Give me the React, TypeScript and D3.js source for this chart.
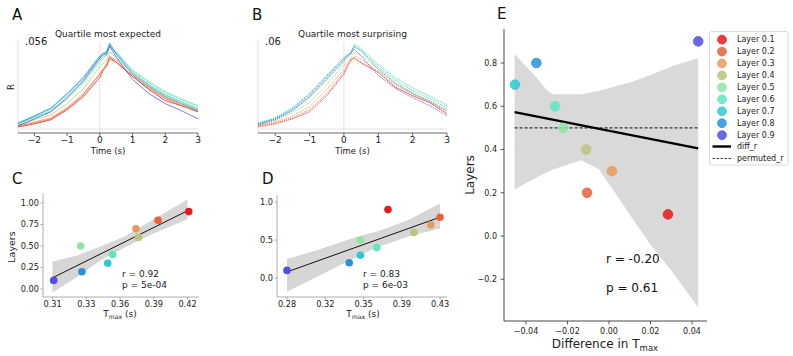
import React from 'react';
import * as d3 from 'd3';

const FONT = '"DejaVu Sans", sans-serif';

// layers, ordered 0.1 ... 0.9
const layerLabels = ['Layer 0.1', 'Layer 0.2', 'Layer 0.3', 'Layer 0.4', 'Layer 0.5', 'Layer 0.6', 'Layer 0.7', 'Layer 0.8', 'Layer 0.9'];
const layerColors = ['#e8191c', '#e8623c', '#e89a5c', '#bec27c', '#8ee6a0', '#5ee6c2', '#2ec8d2', '#2892dc', '#5050e2'];
const layerValue = [0.1, 0.2, 0.3, 0.4, 0.5, 0.6, 0.7, 0.8, 0.9];
const layerDepth = [0.9, 0.8, 0.7, 0.6, 0.5, 0.4, 0.3, 0.2, 0.1];

// A / B : time courses of R (in units of 1e-3), one row per layer
const timePoints = [-2.5, -2, -1.5, -1, -0.5, 0, 0.1, 0.2, 0.3, 0.5, 1, 1.5, 2, 2.5, 3];
const timeTicks = [-2, -1, 0, 1, 2, 3];

const expectedR = [
  [1.3, 3.3, 5.9, 12.4, 20.8, 33.2, 37.8, 40.4, 46.2, 43.0, 33.9, 25.4, 18.2, 15.0, 11.1],
  [2.0, 3.9, 6.5, 13.0, 22.1, 35.2, 37.8, 40.4, 44.9, 43.0, 33.9, 26.0, 19.5, 15.0, 11.1],
  [2.0, 4.6, 7.2, 13.7, 22.8, 35.8, 39.1, 41.7, 46.9, 44.3, 34.5, 26.7, 20.2, 15.6, 11.7],
  [2.6, 5.9, 9.1, 16.3, 26.0, 40.4, 42.3, 44.3, 49.5, 46.2, 35.8, 28.0, 21.5, 16.9, 12.4],
  [3.3, 7.2, 11.1, 18.9, 29.3, 43.0, 44.9, 46.9, 52.7, 49.5, 37.8, 30.6, 24.1, 19.5, 15.0],
  [3.3, 7.8, 11.7, 20.2, 30.6, 44.3, 46.2, 47.5, 53.4, 49.5, 37.8, 29.9, 23.4, 18.9, 14.3],
  [3.9, 8.5, 13.0, 22.1, 32.6, 46.2, 48.2, 49.5, 54.7, 48.8, 36.5, 28.6, 22.1, 17.6, 13.0],
  [3.6, 8.2, 13.4, 22.8, 33.4, 47.0, 48.9, 49.0, 55.2, 48.2, 35.2, 27.3, 20.8, 16.3, 11.7],
  [2.0, 6.5, 11.1, 20.2, 31.2, 45.6, 47.5, 48.2, 53.4, 46.2, 31.9, 22.8, 16.3, 11.7, 6.5],
];

const surprisingR = [
  [1.4, 3.5, 7.0, 11.9, 23.0, 37.7, 43.3, 48.2, 48.9, 45.4, 39.1, 28.6, 23.0, 18.1, 10.5],
  [2.1, 4.2, 7.7, 13.3, 24.4, 39.1, 43.3, 46.8, 48.9, 46.1, 39.1, 29.3, 23.0, 18.1, 10.5],
  [2.1, 4.9, 9.1, 15.4, 27.2, 41.2, 44.7, 47.5, 50.3, 48.2, 39.8, 30.7, 24.4, 18.8, 11.9],
  [2.8, 5.6, 11.2, 18.1, 30.7, 44.0, 46.8, 48.9, 53.0, 51.0, 41.2, 32.1, 25.1, 19.5, 13.3],
  [3.5, 7.0, 12.6, 21.6, 33.5, 46.1, 48.9, 51.7, 57.9, 55.8, 44.7, 35.6, 28.6, 23.0, 16.8],
  [3.5, 7.0, 13.3, 22.3, 34.2, 46.8, 49.6, 52.4, 58.6, 55.1, 44.0, 34.9, 27.9, 22.3, 16.1],
  [4.2, 7.7, 14.7, 24.4, 37.0, 48.9, 51.0, 52.4, 56.5, 54.4, 42.6, 33.5, 26.5, 20.9, 14.7],
  [3.5, 7.0, 14.0, 23.7, 36.3, 48.9, 51.0, 53.0, 57.2, 53.7, 41.2, 31.4, 24.4, 18.8, 12.6],
  [2.8, 6.3, 12.6, 22.3, 34.9, 47.5, 50.3, 51.7, 55.1, 50.3, 37.0, 27.9, 21.6, 16.1, 9.1],
];

// C / D : Tmax per layer
const tmaxExpected = [0.421, 0.396, 0.378, 0.380, 0.333, 0.359, 0.355, 0.334, 0.311];
const tmaxSurprising = [0.379, 0.43, 0.421, 0.4045, 0.352, 0.368, 0.352, 0.341, 0.28];

const fitC = [[0.31, 0.13], [0.42, 0.91]];
const bandC = [
  [0.31, -0.04, 0.32], [0.33, 0.14, 0.39], [0.35, 0.34, 0.5], [0.37, 0.49, 0.62], [0.39, 0.63, 0.79], [0.42, 0.81, 1.04],
];
const fitD = [[0.28, 0.08], [0.43, 0.8]];
const bandD = [
  [0.28, -0.18, 0.25], [0.31, 0.02, 0.37], [0.35, 0.29, 0.55], [0.37, 0.41, 0.62], [0.4, 0.55, 0.77], [0.43, 0.65, 0.98],
];

const cTicks = [0.31, 0.3375, 0.365, 0.3925, 0.42];
const cTickLabels = ['0.31', '0.33', '0.36', '0.39', '0.42'];
const cYTicks = [0, 0.25, 0.5, 0.75, 1];
const cYTickLabels = ['0.00', '0.25', '0.50', '0.75', '1.00'];
const dTicks = [0.28, 0.3175, 0.355, 0.3925, 0.43];
const dTickLabels = ['0.28', '0.32', '0.35', '0.39', '0.43'];
const dYTicks = [0, 0.5, 1];
const dYTickLabels = ['0.0', '0.5', '1.0'];

// E : difference in Tmax
const tmaxDiff = [0.0284, -0.0106, 0.0014, -0.011, -0.022, -0.026, -0.0453, -0.035, 0.043];
const fitE = [[-0.0455, 0.573], [0.043, 0.405]];
const permutedR = 0.5;
const bandE = [
  [-0.0455, 0.214, 0.842], [-0.04, 0.245, 0.785], [-0.035, 0.27, 0.733], [-0.03, 0.295, 0.674],
  [-0.027, 0.307, 0.656], [-0.02, 0.33, 0.655], [-0.0135, 0.35, 0.655], [-0.005, 0.31, 0.67],
  [0, 0.24, 0.684], [0.01, 0.1, 0.71], [0.02, -0.04, 0.745], [0.03, -0.16, 0.784], [0.043, -0.33, 0.823],
];
const eXTicks = [-0.04, -0.02, 0, 0.02, 0.04];
const eYTicks = [-0.2, 0, 0.2, 0.4, 0.6, 0.8];

const minus = (s: string) => s.replace('-', '\u2212');

function Tmax({ x, y, size, suffix }: any) {
  return (
    <text x={x} y={y} fontSize={size} textAnchor="middle" fill="#222">
      T<tspan fontSize={size * 0.68} dy={size * 0.22}>max</tspan>
      <tspan dy={-size * 0.22}>{suffix}</tspan>
    </text>
  );
}

function TracePanel({ rows, left, right, yMax, topLabel, title, letter, ylabel, dashed }: any) {
  const x = d3.scaleLinear().domain([-2.5, 3]).range([left, right]);
  const y = d3.scaleLinear().domain([0, yMax]).range([129, 42]);
  const line = d3.line<number>().x((_, i) => x(timePoints[i])).y((d) => y(d));
  const cx = (left + right) / 2;
  return (
    <g fontFamily={FONT}>
      <text x={left - 6} y={20} fontSize={15} fill="#111">{letter}</text>
      <text x={cx} y={37} fontSize={9} textAnchor="middle" fill="#222">{title}</text>
      <text x={left + 7} y={45} fontSize={10} fill="#222">{topLabel}</text>
      {ylabel && (
        <text transform={`translate(${left - 4},87) rotate(-90)`} fontSize={8.5} textAnchor="middle" fill="#222">{ylabel}</text>
      )}
      <line x1={left} x2={left} y1={40} y2={133} stroke="#d8d8d8" strokeWidth={0.8} />
      <line x1={x(0)} x2={x(0)} y1={42} y2={133} stroke="#dcdcdc" strokeWidth={0.8} />
      <line x1={left} x2={right} y1={y(0)} y2={y(0)} stroke="#dcdcdc" strokeWidth={0.8} />
      {rows.map((r: number[], i: number) => (
        <path key={i} d={line(r) || ''} fill="none" stroke={layerColors[i]} strokeWidth={dashed ? 0.9 : 0.9}
          strokeOpacity={0.85} strokeDasharray={dashed ? '1.4 0.8' : undefined} />
      ))}
      <line x1={left} x2={right} y1={133} y2={133} stroke="#444" strokeWidth={0.8} />
      {timeTicks.map((t) => (
        <g key={t}>
          <line x1={x(t)} x2={x(t)} y1={133} y2={136} stroke="#444" strokeWidth={0.8} />
          <text x={x(t)} y={143} fontSize={9} textAnchor="middle" fill="#222">{minus(String(t))}</text>
        </g>
      ))}
      <text x={cx} y={153.5} fontSize={8.5} textAnchor="middle" fill="#222">Time (s)</text>
    </g>
  );
}

function ScatterPanel({ cfg }: any) {
  const x = d3.scaleLinear().domain(cfg.xDomain).range(cfg.xRange);
  const y = d3.scaleLinear().domain([0, 1]).range(cfg.yRange);
  const area = d3.area<number[]>().x((d) => x(d[0])).y0((d) => y(d[1])).y1((d) => y(d[2]));
  const fit = d3.line<number[]>().x((d) => x(d[0])).y((d) => y(d[1]));
  const [sl, sr] = cfg.spineX;
  const [st, sb] = cfg.spineY;
  return (
    <g fontFamily={FONT}>
      <text x={cfg.letterX} y={184} fontSize={15} fill="#111">{cfg.letter}</text>
      <path d={area(cfg.band) || ''} fill="#d6d6d6" />
      <path d={fit(cfg.fit) || ''} stroke="#111" strokeWidth={1} fill="none" />
      {cfg.xs.map((v: number, i: number) => (
        <circle key={i} cx={x(v)} cy={y(layerDepth[i])} r={3.8} fill={layerColors[i]} />
      ))}
      <line x1={sl} x2={sl} y1={st} y2={sb} stroke="#999" strokeWidth={0.8} />
      <line x1={sl} x2={sr} y1={sb} y2={sb} stroke="#999" strokeWidth={0.8} />
      {cfg.xTicks.map((t: number, i: number) => (
        <g key={i}>
          <line x1={x(t)} x2={x(t)} y1={sb} y2={sb + 2.5} stroke="#999" strokeWidth={0.8} />
          <text x={x(t)} y={306.5} fontSize={8.2} textAnchor="middle" fill="#222">{cfg.xTickLabels[i]}</text>
        </g>
      ))}
      {cfg.yTicks.map((t: number, i: number) => (
        <g key={i}>
          <line x1={sl - 2.5} x2={sl} y1={y(t)} y2={y(t)} stroke="#999" strokeWidth={0.8} />
          <text x={sl - 4} y={y(t)} dy="0.35em" fontSize={8.2} textAnchor="end" fill="#222">{cfg.yTickLabels[i]}</text>
        </g>
      ))}
      {cfg.ylabel && (
        <text transform={`translate(${cfg.ylabelX},247) rotate(-90)`} fontSize={9.5} textAnchor="middle" fill="#222">Layers</text>
      )}
      <Tmax x={cfg.xlabelX} y={317} size={9} suffix=" (s)" />
      <text x={cfg.statX} y={276.5} fontSize={9} fill="#222">{cfg.stats[0]}</text>
      <text x={cfg.statX} y={288} fontSize={9} fill="#222">{cfg.stats[1]}</text>
    </g>
  );
}

function PanelE() {
  const x = d3.scaleLinear().domain([-0.04, 0.04]).range([526, 692]);
  const y = d3.scaleLinear().domain([0, 0.8]).range([236, 63]);
  const area = d3.area<number[]>().x((d) => x(d[0])).y0((d) => y(d[1])).y1((d) => y(d[2]));
  const fit = d3.line<number[]>().x((d) => x(d[0])).y((d) => y(d[1]));
  const fmtX = d3.format('.2f');
  const fmtY = d3.format('.1f');
  const legendY = (i: number) => 39.6 + i * 11.95;
  return (
    <g fontFamily={FONT}>
      <text x={497} y={19} fontSize={15} fill="#111">E</text>
      <path d={area(bandE) || ''} fill="#d9d9d9" />
      <line x1={x(fitE[0][0])} x2={x(fitE[1][0])} y1={y(permutedR)} y2={y(permutedR)} stroke="#333" strokeWidth={1.1} strokeDasharray="3 2" />
      <path d={fit(fitE) || ''} stroke="#000" strokeWidth={2.4} fill="none" />
      {tmaxDiff.map((v, i) => (
        <circle key={i} cx={x(v)} cy={y(layerValue[i])} r={4.8} fill={layerColors[i]} fillOpacity={0.85}
          stroke={layerColors[i]} strokeWidth={0.8} />
      ))}
      <line x1={504} x2={504} y1={29} y2={321} stroke="#333" strokeWidth={0.9} />
      <line x1={504} x2={707} y1={321} y2={321} stroke="#333" strokeWidth={0.9} />
      {eYTicks.map((t) => (
        <g key={t}>
          <line x1={500.5} x2={504} y1={y(t)} y2={y(t)} stroke="#333" strokeWidth={0.8} />
          <text x={497} y={y(t)} dy="0.35em" fontSize={8} textAnchor="end" fill="#222">{minus(fmtY(t))}</text>
        </g>
      ))}
      {eXTicks.map((t) => (
        <g key={t}>
          <line x1={x(t)} x2={x(t)} y1={321} y2={324.5} stroke="#333" strokeWidth={0.8} />
          <text x={x(t)} y={333.5} fontSize={8} textAnchor="middle" fill="#222">{minus(fmtX(t))}</text>
        </g>
      ))}
      <text transform="translate(474,175) rotate(-90)" fontSize={12} textAnchor="middle" fill="#222">Layers</text>
      <text x={605} y={347.5} fontSize={12} textAnchor="middle" fill="#222">
        Difference in T<tspan fontSize={8.5} dy={3}>max</tspan>
      </text>
      <text x={606} y={262.5} fontSize={12} fill="#111">r = -0.20</text>
      <text x={606} y={292} fontSize={12} fill="#111">p = 0.61</text>
      <rect x={709.5} y={31.5} width={78.5} height={133.5} rx={2} fill="#fff" stroke="#cfcfcf" strokeWidth={0.8} />
      {layerLabels.map((l, i) => (
        <g key={l}>
          <circle cx={722} cy={legendY(i)} r={4.4} fill={layerColors[i]} fillOpacity={0.85} stroke={layerColors[i]} strokeWidth={0.8} />
          <text x={737} y={legendY(i)} dy="0.35em" fontSize={8} fill="#222">{l}</text>
        </g>
      ))}
      <line x1={712.5} x2={731} y1={146.5} y2={146.5} stroke="#000" strokeWidth={2.4} />
      <text x={737} y={146.5} dy="0.35em" fontSize={8} fill="#222">diff_r</text>
      <line x1={712.5} x2={731} y1={158.5} y2={158.5} stroke="#333" strokeWidth={1} strokeDasharray="2.5 1.5" />
      <text x={737} y={158.5} dy="0.35em" fontSize={8} fill="#222">permuted_r</text>
    </g>
  );
}

const cConfig = {
  letter: 'C', letterX: 12, xs: tmaxExpected, xDomain: [0.31, 0.42], xRange: [52.5, 187.5], yRange: [289, 203],
  spineX: [43, 199], spineY: [193, 297], xTicks: cTicks, xTickLabels: cTickLabels, yTicks: cYTicks, yTickLabels: cYTickLabels,
  band: bandC, fit: fitC, ylabel: true, ylabelX: 15, xlabelX: 120, statX: 122, stats: ['r = 0.92', 'p = 5e-04'],
};
const dConfig = {
  letter: 'D', letterX: 262, xs: tmaxSurprising, xDomain: [0.28, 0.43], xRange: [287, 440], yRange: [278, 202],
  spineX: [277, 447], spineY: [195, 297], xTicks: dTicks, xTickLabels: dTickLabels, yTicks: dYTicks, yTickLabels: dYTickLabels,
  band: bandD, fit: fitD, ylabel: false, ylabelX: 0, xlabelX: 363, statX: 363, stats: ['r = 0.83', 'p = 6e-03'],
};

export default function App() {
  return (
    <svg width={793} height={356} style={{ position: 'absolute', left: 0, top: 0, background: '#fff' }}>
      <rect width={793} height={356} fill="#fff" />
      <TracePanel rows={expectedR} left={18} right={198} yMax={56} topLabel=".056" title="Quartile most expected" letter="A" ylabel="R" />
      <TracePanel rows={surprisingR} left={258} right={447} yMax={60} topLabel=".06" title="Quartile most surprising" letter="B" dashed />
      <ScatterPanel cfg={cConfig} />
      <ScatterPanel cfg={dConfig} />
      <PanelE />
    </svg>
  );
}
